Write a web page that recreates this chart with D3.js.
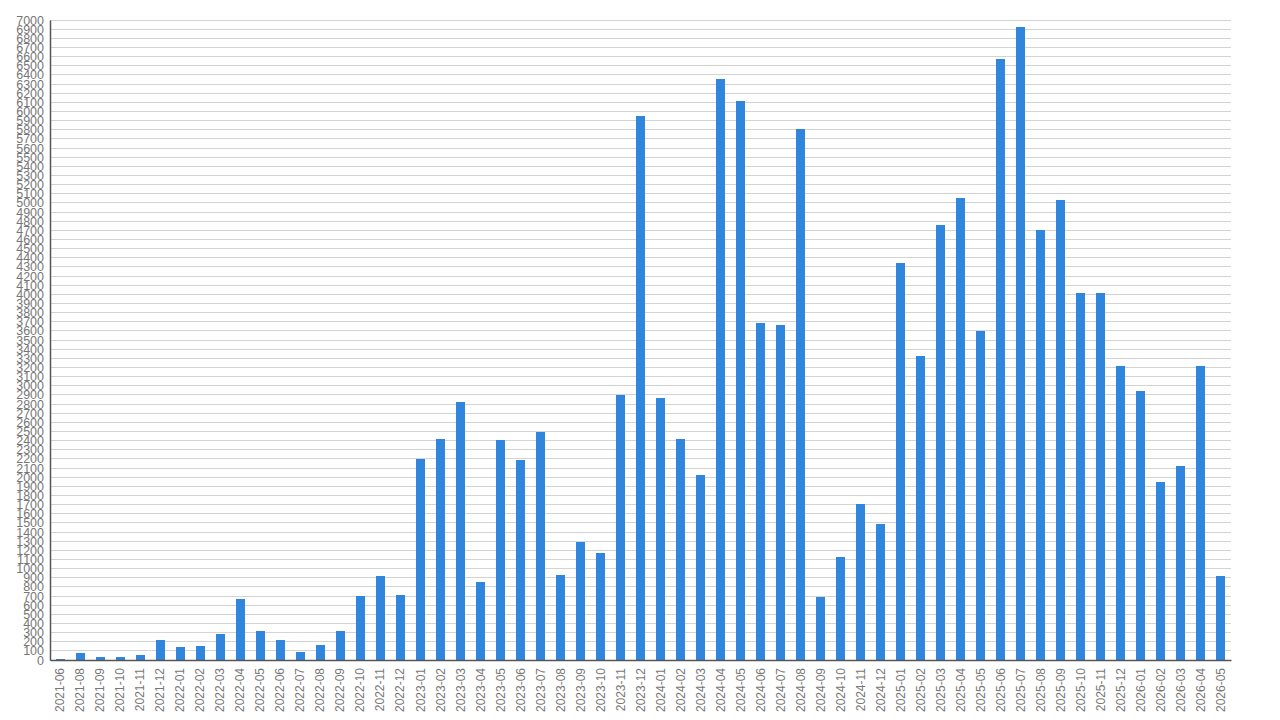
<!DOCTYPE html>
<html>
<head>
<meta charset="utf-8">
<script src="https://cdn.jsdelivr.net/npm/d3@7"></script>
<style>
  body { margin: 0; background: #fff; }
  svg { display: block; }
</style>
</head>
<body>
<div id="chart"></div>
<script>
// Months shown on the x axis (2021-07 is absent in the source)
var months = [
  "2021-06", "2021-08", "2021-09", "2021-10", "2021-11", "2021-12",
  "2022-01", "2022-02", "2022-03", "2022-04", "2022-05", "2022-06",
  "2022-07", "2022-08", "2022-09", "2022-10", "2022-11", "2022-12",
  "2023-01", "2023-02", "2023-03", "2023-04", "2023-05", "2023-06",
  "2023-07", "2023-08", "2023-09", "2023-10", "2023-11", "2023-12",
  "2024-01", "2024-02", "2024-03", "2024-04", "2024-05", "2024-06",
  "2024-07", "2024-08", "2024-09", "2024-10", "2024-11", "2024-12",
  "2025-01", "2025-02", "2025-03", "2025-04", "2025-05", "2025-06",
  "2025-07", "2025-08", "2025-09", "2025-10", "2025-11", "2025-12",
  "2026-01", "2026-02", "2026-03", "2026-04", "2026-05"
];

// Monthly values
var values = [
  10, 77, 33, 33, 55, 220,
  143, 154, 286, 670, 319, 220,
  88, 165, 319, 703, 923, 714,
  2193, 2415, 2823, 853, 2404, 2183,
  2493, 930, 1286, 1174, 2903, 5948,
  2870, 2415, 2025, 6353, 6115, 3686,
  3664, 5804, 690, 1127, 1706, 1487,
  4342, 3325, 4758, 5053, 3598, 6573,
  6923, 4703, 5031, 4014, 4014, 3216,
  2942, 1947, 2122, 3216, 919
];

// Y tick labels: 0 to 7000 every 100
var yTicks = d3.range(0, 7001, 100);

var width = 1280,
    height = 720,
    margin = { top: 20, right: 49, bottom: 60, left: 50 };

var data = months.map(function(m, i) { return { month: m, value: values[i] }; });

var svg = d3.select("#chart")
  .append("svg")
    .attr("width", width)
    .attr("height", height);

var x = d3.scaleBand()
  .domain(months)
  .range([margin.left, width - margin.right])
  .paddingInner(0.55)
  .paddingOuter(0.275);

var y = d3.scaleLinear()
  .domain([0, 7000])
  .range([height - margin.bottom, margin.top]);

// Grid lines
svg.append("g")
  .selectAll("line")
  .data(yTicks)
  .enter()
  .append("line")
    .attr("x1", margin.left)
    .attr("x2", width - margin.right)
    .attr("y1", function(d) { return y(d); })
    .attr("y2", function(d) { return y(d); })
    .attr("stroke", "#d3d3d3")
    .attr("stroke-width", 1)
    .attr("shape-rendering", "crispEdges");

// Bars
svg.append("g")
  .selectAll("rect")
  .data(data)
  .enter()
  .append("rect")
    .attr("x", function(d) { return x(d.month); })
    .attr("y", function(d) { return y(d.value); })
    .attr("width", x.bandwidth())
    .attr("height", function(d) { return y(0) - y(d.value); })
    .attr("fill", "#2f86dc")
    .attr("shape-rendering", "crispEdges");

// Y axis
var yAxis = svg.append("g")
  .attr("transform", "translate(" + margin.left + ",0)")
  .call(d3.axisLeft(y).tickValues(yTicks).tickFormat(d3.format("d")).tickSize(0).tickPadding(6));

yAxis.select(".domain").attr("stroke", "#555").attr("stroke-width", 1.5);
yAxis.selectAll("text")
  .style("font-family", "'Liberation Sans', Arial, sans-serif")
  .style("font-size", "12.5px")
  .attr("fill", "#777");

// X axis
var xAxis = svg.append("g")
  .attr("transform", "translate(0," + y(0) + ")")
  .call(d3.axisBottom(x).tickSize(0).tickPadding(0));

xAxis.select(".domain").attr("stroke", "#555").attr("stroke-width", 1.5);
xAxis.selectAll("text")
  .style("font-family", "'Liberation Sans', Arial, sans-serif")
  .style("font-size", "12px")
  .attr("fill", "#777")
  .attr("text-anchor", "end")
  .attr("dy", "0.35em")
  .attr("transform", "translate(0,8) rotate(-90)")
  .attr("x", 0)
  .attr("y", 0);
</script>
</body>
</html>
